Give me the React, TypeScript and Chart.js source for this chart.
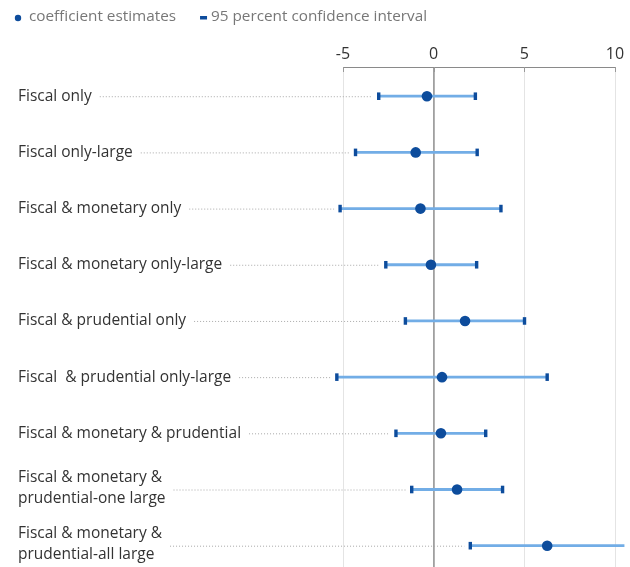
import { useEffect, useRef } from "react";
import { Chart, registerables } from "chart.js";

Chart.register(...registerables);

// Row labels (multi-line labels are split into arrays)
const categories: string[][] = [
  ["Fiscal only"],
  ["Fiscal only-large"],
  ["Fiscal & monetary only"],
  ["Fiscal & monetary only-large"],
  ["Fiscal & prudential only"],
  ["Fiscal  & prudential only-large"],
  ["Fiscal & monetary & prudential"],
  ["Fiscal & monetary &", "prudential-one large"],
  ["Fiscal & monetary &", "prudential-all large"],
];

// Point estimates and 95% confidence bounds
const estimates = [-0.37, -0.99, -0.73, -0.15, 1.73, 0.46, 0.4, 1.29, 6.26];
const ciLow = [-3.03, -4.31, -5.16, -2.64, -1.56, -5.34, -2.08, -1.21, 2.02];
const ciHigh = [2.3, 2.4, 3.71, 2.37, 5.01, 6.26, 2.87, 3.8, 10.52];

const xTicks = [-5, 0, 5, 10];

const legendLabels = ["coefficient estimates", "95 percent confidence interval"];

const FONT = "'Open Sans', 'DejaVu Sans', sans-serif";
const DARK_BLUE = "#0d4c9c";
const LIGHT_BLUE = "#72ade6";

const rowLabelsPlugin = {
  id: "rowLabels",
  beforeDatasetsDraw(chart: any) {
    const { ctx, scales } = chart;
    const xs = scales.x;
    const ys = scales.y;
    ctx.save();
    ctx.font = `15.5px ${FONT}`;
    ctx.textBaseline = "middle";
    ctx.textAlign = "left";
    const lineH = 21;
    categories.forEach((lines, i) => {
      const cy = ys.getPixelForValue(i);
      let maxW = 0;
      lines.forEach((t, k) => {
        const ty = cy + (k - (lines.length - 1) / 2) * lineH - (lines.length > 1 ? 1.5 : 0);
        ctx.fillStyle = "#333333";
        ctx.fillText(t, 18, ty);
        maxW = Math.max(maxW, ctx.measureText(t).width);
      });
      // dotted leader from label to the lower confidence bound
      const x0 = 18 + maxW + 8;
      const x1 = xs.getPixelForValue(ciLow[i]) - 6;
      if (x1 > x0) {
        ctx.beginPath();
        ctx.setLineDash([1, 2]);
        ctx.strokeStyle = "#a8a8a8";
        ctx.lineWidth = 1;
        ctx.moveTo(x0, cy + 0.5);
        ctx.lineTo(x1, cy + 0.5);
        ctx.stroke();
        ctx.setLineDash([]);
      }
    });
    // short tick marks under the top axis line
    const top = chart.chartArea.top;
    ctx.strokeStyle = "#999999";
    ctx.lineWidth = 1;
    xTicks.forEach((v) => {
      const px = Math.round(xs.getPixelForValue(v)) + 0.5;
      ctx.beginPath();
      ctx.moveTo(px, top);
      ctx.lineTo(px, top + 5);
      ctx.stroke();
    });
    ctx.restore();
  },
  afterDraw(chart: any) {
    const { ctx } = chart;
    ctx.save();
    ctx.font = `15.3px ${FONT}`;
    ctx.textBaseline = "middle";
    ctx.textAlign = "left";
    const ly = 17;
    // estimate marker
    ctx.fillStyle = DARK_BLUE;
    ctx.beginPath();
    ctx.arc(18, ly + 1, 3.2, 0, Math.PI * 2);
    ctx.fill();
    ctx.fillStyle = "#777777";
    ctx.fillText(legendLabels[0], 29, ly);
    const w0 = ctx.measureText(legendLabels[0]).width;
    // interval marker
    const dx = 29 + w0 + 24;
    ctx.fillStyle = DARK_BLUE;
    ctx.fillRect(dx, ly - 1, 7, 3.5);
    ctx.fillStyle = "#777777";
    ctx.fillText(legendLabels[1], dx + 11, ly);
    ctx.restore();
  },
};

export default function App() {
  const canvasRef = useRef<HTMLCanvasElement | null>(null);

  useEffect(() => {
    if (!canvasRef.current) return;

    const ciDatasets = categories.map((_, i) => ({
      type: "scatter" as const,
      label: `ci-${i}`,
      data: [
        { x: ciLow[i], y: i },
        { x: ciHigh[i], y: i },
      ],
      showLine: true,
      borderColor: LIGHT_BLUE,
      borderWidth: 2.8,
      pointRadius: 0,
      clip: false as any,
      order: 3,
    }));

    const capData = [
      ...ciLow.map((v, i) => ({ x: v, y: i })),
      ...ciHigh.map((v, i) => ({ x: v, y: i })),
    ];

    const chart = new Chart(canvasRef.current, {
      type: "scatter",
      data: {
        datasets: [
          {
            label: legendLabels[0],
            data: estimates.map((v, i) => ({ x: v, y: i })),
            pointRadius: 5.3,
            pointBackgroundColor: DARK_BLUE,
            pointBorderWidth: 0,
            clip: false as any,
            order: 1,
          },
          {
            label: legendLabels[1],
            data: capData,
            pointStyle: "line",
            rotation: 90,
            pointRadius: 3.8,
            pointBorderWidth: 3.4,
            pointBorderColor: DARK_BLUE,
            borderColor: DARK_BLUE,
            clip: false as any,
            order: 2,
          },
          ...ciDatasets,
        ] as any,
      },
      options: {
        animation: false,
        responsive: false,
        layout: { padding: { left: 343, right: 15, top: 44, bottom: 0 } },
        plugins: {
          legend: { display: false },
          tooltip: { enabled: false },
        },
        scales: {
          x: {
            type: "linear",
            position: "top",
            min: -5,
            max: 10,
            afterBuildTicks: (scale: any) => {
              scale.ticks = xTicks.map((v) => ({ value: v }));
            },
            afterFit: (scale: any) => {
              scale.height = 23;
            },
            ticks: {
              font: { family: FONT, size: 16 },
              color: "#333333",
              padding: 3,
            },
            grid: {
              drawTicks: false,
              color: (c: any) => (c.tick && c.tick.value === 0 ? "#a0a0a0" : "#e4e4e4"),
              lineWidth: (c: any) => (c.tick && c.tick.value === 0 ? 1.8 : 1),
            },
            border: { display: true, color: "#8a8a8a", width: 1 },
          },
          y: {
            type: "linear",
            display: false,
            reverse: true,
            min: -0.52,
            max: 8.39,
          },
        },
      },
      plugins: [rowLabelsPlugin],
    });

    return () => chart.destroy();
  }, []);

  return (
    <div
      style={{
        position: "absolute",
        left: 0,
        top: 0,
        width: 630,
        height: 567,
        overflow: "hidden",
        background: "#ffffff",
      }}
    >
      <canvas ref={canvasRef} width={630} height={575} />
    </div>
  );
}
